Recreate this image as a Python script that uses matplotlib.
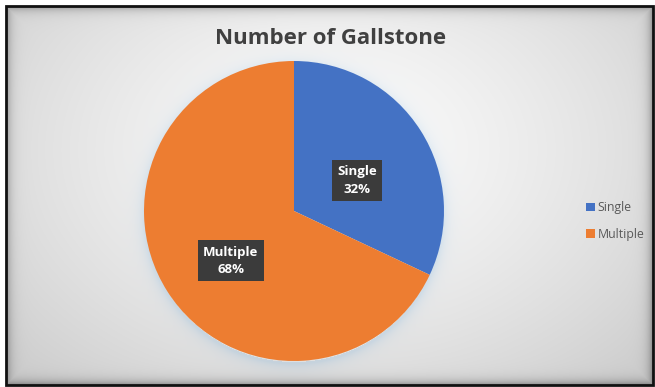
import numpy as np
import matplotlib
matplotlib.use("Agg")
import matplotlib.pyplot as plt
from matplotlib.patches import Rectangle

# Data
categories = ["Single", "Multiple"]
shares = [32, 68]
colors = ["#4472C4", "#ED7D31"]
title = "Number of Gallstone"

W, H = 655, 387
fig = plt.figure(figsize=(W / 100, H / 100), dpi=100)
fig.patch.set_facecolor("white")

# Background panel: radial grey gradient with a dark inset rim
bg = fig.add_axes([0, 0, 1, 1])
bg.set_xlim(0, W)
bg.set_ylim(H, 0)
bg.axis("off")
yy, xx = np.mgrid[0:H, 0:W] + 0.5
x0, y0, x1, y1 = 6, 6, 653, 385
d = np.sqrt(((xx - 330) / 420) ** 2 + ((yy - 150) / 300) ** 2)
val = 0.985 - 0.17 * np.clip(d, 0, 1.3) ** 1.4
# inset shading near the frame
edge = np.minimum.reduce([xx - x0, x1 - xx, yy - y0, y1 - yy])
val = val - 0.30 * np.exp(-np.clip(edge, 0, None) / 4.5)
# soft shadow around the pie
cx, cy, r = 294, 211, 150
rr = np.sqrt((xx - cx) ** 2 + (yy - cy - 3) ** 2)
glow = np.exp(-np.clip(rr - r, 0, None) / 6.0) * (rr > r - 2)
img = np.dstack([val - 0.10 * glow, val - 0.05 * glow, val - 0.01 * glow])
outside = (xx < x0) | (xx > x1) | (yy < y0) | (yy > y1)
img[outside] = 1.0
bg.imshow(np.clip(img, 0, 1), extent=(0, W, H, 0), interpolation="bilinear", zorder=0)
bg.add_patch(Rectangle((x0, y0), x1 - x0, y1 - y0, fill=False, ec="#111111", lw=2, zorder=2))

# Pie
ax = fig.add_axes([(cx - r) / W, (H - cy - r) / H, 2 * r / W, 2 * r / H])
ax.set_facecolor("none")
wedges, _ = ax.pie(shares, colors=colors, startangle=90, counterclock=False,
                   wedgeprops=dict(linewidth=0))
ax.set_xlim(-1, 1)
ax.set_ylim(-1, 1)
ax.set_aspect("equal")
ax.axis("off")

# Data labels in dark boxes
total = sum(shares)
for w, cat, val_ in zip(wedges, categories, shares):
    ang = np.deg2rad((w.theta1 + w.theta2) / 2)
    lx, ly = 0.5 * np.cos(ang), 0.5 * np.sin(ang)
    ax.annotate(f"{cat}\n{round(100 * val_ / total)}%", (lx, ly),
                xytext=(0, -7), textcoords="offset points",
                ha="center", va="center",
                color="white", fontsize=9.5, fontweight="bold", family="Open Sans",
                linespacing=1.45,
                bbox=dict(boxstyle="square,pad=0.4", fc="#3b3b3b", ec="none"))

fig.text(331 / W, 1 - 38 / H, title, ha="center", va="center", fontsize=16,
         fontweight="bold", family="Open Sans", color="#404040")

leg = fig.legend(wedges, categories, loc="center left",
                 bbox_to_anchor=(580 / W, 1 - 221 / H), frameon=False,
                 handlelength=0.7, handleheight=0.7, handletextpad=0.25,
                 labelspacing=1.1, borderpad=0, prop=dict(family="Open Sans", size=8.8))
for t in leg.get_texts():
    t.set_color("#595959")

fig.savefig("out.png", dpi=100)
